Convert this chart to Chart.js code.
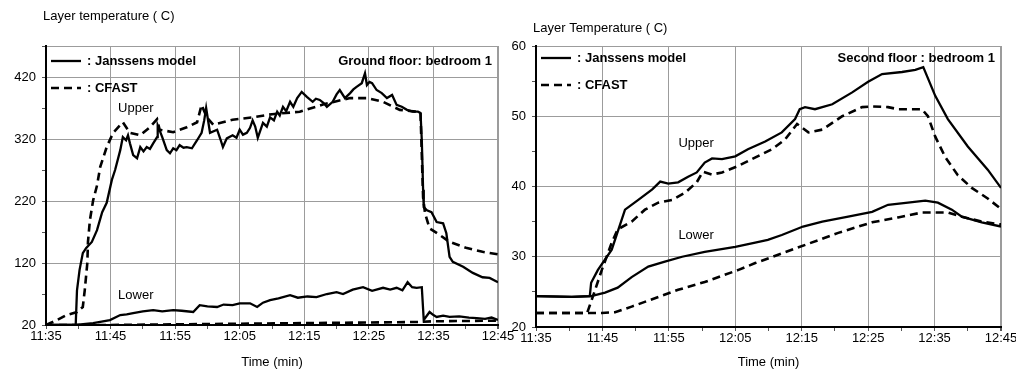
<!DOCTYPE html>
<html>
<head>
<meta charset="utf-8">
<script src="https://cdn.jsdelivr.net/npm/chart.js@4.4.0/dist/chart.umd.min.js"></script>
<style>
  body { margin: 0; background: #fff; width: 1016px; height: 370px; overflow: hidden; position: relative; }
  .panel { position: absolute; top: 0; }
  #groundPanel { left: 0; }
  #secondPanel { left: 505px; }
</style>
</head>
<body>
<div class="panel" id="groundPanel"><canvas id="groundChart" width="530" height="370"></canvas></div>
<div class="panel" id="secondPanel"><canvas id="secondChart" width="511" height="370"></canvas></div>
<script>
// ===== Data: minutes after 11:35, layer temperature in C =====
const timeLabels = ["11:35", "11:45", "11:55", "12:05", "12:15", "12:25", "12:35", "12:45"];
const groundTicks = [20, 120, 220, 320, 420];
const secondTicks = [20, 30, 40, 50, 60];

// Ground floor: bedroom 1
const groundJanssensUpper = [
  [0, 20], [4.6, 20], [4.8, 76], [5.2, 109], [5.7, 136], [6.2, 144], [7.1, 154], [7.9, 173],
  [8.7, 202], [9.4, 217], [10.2, 254], [10.7, 270], [11.5, 302], [11.9, 323], [12.4, 318],
  [12.7, 326], [13.0, 313], [13.5, 294], [14.1, 289], [14.6, 307], [15.1, 300], [15.6, 307],
  [16.1, 304], [16.6, 313], [17.2, 323], [17.3, 342], [18.0, 323], [18.7, 302], [19.2, 297],
  [19.7, 305], [20.2, 302], [20.7, 310], [21.3, 306], [21.8, 307], [22.6, 305], [23.4, 318],
  [24.1, 330], [24.5, 350], [24.8, 370], [25.4, 330], [26.5, 335], [27.0, 320], [27.4, 307],
  [28.0, 321], [28.9, 326], [29.5, 322], [30.0, 335], [30.5, 327], [31.1, 330], [31.6, 338],
  [32.0, 350], [32.4, 340], [32.8, 322], [33.6, 346], [34.2, 340], [34.7, 355], [35.3, 350],
  [35.8, 364], [36.2, 358], [36.7, 372], [37.2, 365], [37.8, 380], [38.3, 372], [38.9, 386],
  [39.6, 396], [40.4, 388], [41.3, 380], [41.8, 385], [42.4, 383], [43.0, 378], [43.5, 372],
  [44.4, 380], [45.0, 392], [45.5, 399], [46.3, 386], [47.1, 394], [47.6, 400], [48.1, 404],
  [48.9, 410], [49.4, 426], [49.7, 407], [50.1, 412], [50.5, 410], [51.2, 399], [52.0, 394],
  [52.8, 386], [53.6, 391], [54.3, 375], [55.1, 372], [55.9, 367], [56.8, 364], [57.6, 364],
  [58.0, 362], [58.2, 318], [58.4, 238], [58.5, 210], [59.0, 205], [59.7, 202], [60.5, 186],
  [61.5, 184], [62.0, 168], [62.5, 130], [63.0, 122], [64.6, 114], [66.1, 104], [67.6, 97],
  [68.7, 96], [70, 89]
];
const groundCfastUpper = [
  [0, 20], [1.7, 28], [3.2, 36], [4.8, 41], [5.7, 49], [6.0, 76], [6.4, 120], [6.5, 154],
  [6.8, 189], [7.3, 221], [7.9, 245], [8.4, 275], [9.4, 307], [10.4, 330], [11.9, 347],
  [13.0, 330], [14.6, 326], [16.1, 339], [17.2, 352], [17.6, 335], [19.7, 331], [21.8, 339],
  [23.4, 347], [24.1, 375], [24.9, 355], [25.9, 343], [28.9, 351], [32.0, 355], [35.0, 360],
  [39.3, 364], [43.0, 376], [47.1, 386], [49.7, 386], [52.2, 380], [54.8, 367], [57.4, 364],
  [58.0, 362], [58.4, 226], [58.7, 200], [59.4, 176], [61.0, 165], [62.5, 154], [65.2, 144],
  [67.6, 138], [70, 134]
];
const groundJanssensLower = [
  [0, 20], [4.6, 20], [7.3, 23], [9.9, 28], [11.5, 36], [12.5, 37], [13.5, 39], [15.0, 42],
  [16.6, 44], [18.0, 42], [19.7, 44], [21.0, 43], [22.8, 41], [23.8, 52], [25.0, 50],
  [26.5, 49], [27.5, 53], [28.9, 52], [30.0, 55], [31.6, 55], [32.7, 49], [33.6, 56],
  [34.7, 60], [36.0, 63], [37.8, 68], [39.0, 64], [40.5, 66], [41.9, 65], [43.5, 70],
  [45.0, 73], [46.0, 70], [47.5, 77], [49.1, 81], [50.5, 75], [52.2, 80], [53.3, 77],
  [54.3, 80], [55.2, 76], [56.0, 89], [56.7, 81], [57.4, 80], [58.2, 81], [58.5, 28],
  [59.4, 41], [60.0, 36], [60.5, 33], [61.5, 35], [62.5, 33], [64.0, 34], [65.5, 32],
  [66.7, 31], [68.0, 30], [69.0, 32], [70, 28]
];
const groundCfastLower = [
  [0, 20], [10, 20], [20, 21], [30, 22], [40, 23], [50, 24], [58, 25], [60, 26], [70, 27]
];

// Second floor: bedroom 1
const secondJanssensUpper = [
  [0, 24.4], [5.4, 24.3], [8.1, 24.4], [8.3, 26.3], [9.3, 28.1], [11.4, 31.0], [13.4, 36.7],
  [15.4, 38.1], [17.5, 39.6], [18.7, 40.7], [19.9, 40.4], [21.4, 40.6], [22.9, 41.4],
  [24.2, 42.0], [25.4, 43.4], [26.5, 44.0], [28.0, 43.9], [30.0, 44.3], [31.9, 45.3],
  [34.5, 46.4], [37.0, 47.7], [39.0, 49.6], [39.7, 51.0], [40.5, 51.3], [42.0, 51.0],
  [44.6, 51.7], [47.6, 53.4], [50.0, 54.9], [52.1, 56.0], [55.1, 56.3], [57.1, 56.6],
  [58.3, 57.0], [60.1, 52.9], [62.0, 49.6], [65.0, 45.7], [68.0, 42.4], [70, 39.8]
];
const secondCfastUpper = [
  [0, 22.0], [7.7, 22.0], [8.4, 23.9], [9.9, 28.1], [11.4, 32.0], [12.3, 33.9], [14.4, 35.0],
  [16.4, 36.7], [18.4, 37.7], [20.5, 38.1], [22.4, 39.1], [24.2, 40.6], [25.1, 42.1],
  [26.5, 41.7], [28.0, 42.0], [30.4, 42.9], [32.5, 43.9], [35.5, 45.3], [37.5, 46.7],
  [39.3, 48.9], [41.0, 47.7], [43.1, 48.1], [46.1, 50.0], [49.1, 51.3], [50.6, 51.4],
  [53.0, 51.3], [54.5, 51.0], [58.1, 51.0], [59.0, 50.0], [60.1, 47.1], [61.6, 44.2],
  [63.5, 41.6], [65.6, 39.8], [68.0, 38.3], [70, 36.8]
];
const secondJanssensLower = [
  [0, 24.4], [5.4, 24.3], [8.3, 24.4], [10.4, 24.9], [12.3, 25.6], [14.4, 27.1], [16.9, 28.6],
  [19.4, 29.3], [22.0, 30.0], [25.4, 30.7], [30.0, 31.4], [33.0, 32.0], [34.9, 32.4],
  [37.0, 33.1], [40.2, 34.3], [43.1, 35.0], [47.0, 35.7], [50.6, 36.4], [53.0, 37.4],
  [56.0, 37.7], [58.6, 38.0], [60.5, 37.7], [62.6, 36.7], [64.1, 35.7], [67.1, 34.9], [70, 34.3]
];
const secondCfastLower = [
  [0, 22.0], [9.9, 22.0], [11.9, 22.1], [14.4, 22.9], [17.9, 24.1], [21.4, 25.3], [25.4, 26.4],
  [30.4, 28.1], [33.0, 29.1], [39.4, 31.3], [45.5, 33.4], [50.6, 34.9], [54.5, 35.6],
  [58.1, 36.3], [62.0, 36.3], [64.1, 35.7], [67.1, 35.0], [70, 34.6]
];

// ===== Shared styling =====
const FONT = "'Liberation Sans', Arial, sans-serif";
const GRID = "#9c9c9c";
const minuteTicks = [0, 5, 10, 15, 20, 25, 30, 35, 40, 45, 50, 55, 60, 65, 70];

function toXY(points) {
  return points.map(([x, y]) => ({ x, y }));
}

function lineSet(points, dashed) {
  return {
    data: toXY(points),
    borderColor: "#000",
    borderWidth: dashed ? 2.6 : 2.3,
    borderDash: dashed ? [8, 5] : [],
    pointRadius: 0,
    tension: 0,
    fill: false
  };
}

// titles, legend and labels drawn on top of the plot
function textPlugin(cfg) {
  return {
    id: "panelText",
    afterDraw(chart) {
      const { ctx, chartArea: a, scales } = chart;
      ctx.save();
      ctx.fillStyle = "#000";
      ctx.textBaseline = "middle";

      ctx.font = "13px " + FONT;
      ctx.textAlign = "left";
      ctx.fillText(cfg.title, cfg.titleX, cfg.titleY);
      ctx.textAlign = "center";
      ctx.fillText("Time (min)", (a.left + a.right) / 2, 362);

      // legend
      const lx = a.left + 5;
      [[cfg.legendY, [], ": Janssens model"], [cfg.legendY + 27, [8, 5], ": CFAST"]].forEach(([y, dash, label]) => {
        ctx.beginPath();
        ctx.setLineDash(dash);
        ctx.lineWidth = dash.length ? 2.6 : 2.3;
        ctx.strokeStyle = "#000";
        ctx.moveTo(lx, y);
        ctx.lineTo(lx + 30, y);
        ctx.stroke();
        ctx.setLineDash([]);
        ctx.font = "bold 13px " + FONT;
        ctx.textAlign = "left";
        ctx.fillText(label, lx + 36, y);
      });

      ctx.font = "bold 13px " + FONT;
      ctx.textAlign = "right";
      ctx.fillText(cfg.room, a.right - 6, cfg.legendY);

      ctx.font = "13px " + FONT;
      ctx.textAlign = "center";
      cfg.notes.forEach(([text, t, v]) => {
        ctx.fillText(text, scales.x.getPixelForValue(t), scales.y.getPixelForValue(v));
      });
      ctx.restore();
    }
  };
}

function buildChart(id, cfg) {
  return new Chart(document.getElementById(id), {
    type: "line",
    data: {
      datasets: [
        lineSet(cfg.series[0], false),
        lineSet(cfg.series[1], true),
        lineSet(cfg.series[2], false),
        lineSet(cfg.series[3], true)
      ]
    },
    options: {
      responsive: false,
      animation: false,
      layout: { padding: cfg.padding },
      plugins: { legend: { display: false }, tooltip: { enabled: false } },
      scales: {
        x: {
          type: "linear",
          min: 0,
          max: 70,
          afterBuildTicks: (s) => { s.ticks = minuteTicks.map((v) => ({ value: v })); },
          afterFit: (s) => { s.height = cfg.xHeight; s.paddingLeft = 0; s.paddingRight = 0; },
          border: { color: "#000", width: 2 },
          grid: {
            color: (c) => (c.tick && c.tick.value % 10 === 0 && c.tick.value > 0 ? GRID : "rgba(0,0,0,0)"),
            lineWidth: (c) => (c.tick && c.tick.value === 70 ? 2 : 1),
            tickColor: "#555",
            tickLength: 4
          },
          ticks: {
            autoSkip: false,
            maxRotation: 0,
            padding: 0,
            color: "#000",
            font: { family: FONT, size: 13 },
            callback: (v) => (v % 10 === 0 ? timeLabels[v / 10] : "")
          }
        },
        y: {
          min: cfg.yMin,
          max: cfg.yMax,
          afterBuildTicks: (s) => { s.ticks = cfg.yAllTicks.map((v) => ({ value: v })); },
          afterFit: (s) => { s.width = cfg.yWidth; s.paddingTop = 0; s.paddingBottom = 0; },
          border: { color: "#000", width: 2 },
          grid: {
            color: (c) => (c.tick && c.tick.value > cfg.yMin && (cfg.yMajor.includes(c.tick.value) || c.tick.value === cfg.yMax) ? GRID : "rgba(0,0,0,0)"),
            tickColor: "#555",
            tickLength: 4
          },
          ticks: {
            autoSkip: false,
            padding: 6,
            color: "#000",
            font: { family: FONT, size: 13 },
            callback: (v) => (cfg.yMajor.includes(v) ? String(v) : "")
          }
        }
      }
    },
    plugins: [textPlugin(cfg)]
  });
}

// ===== Ground floor =====
buildChart("groundChart", {
  series: [groundJanssensUpper, groundCfastUpper, groundJanssensLower, groundCfastLower],
  padding: { left: 0, top: 46, right: 32, bottom: 0 },
  yWidth: 46,
  xHeight: 45,
  yMin: 20,
  yMax: 470,
  yMajor: groundTicks,
  yAllTicks: [20, 70, 120, 170, 220, 270, 320, 370, 420, 470],
  title: "Layer temperature ( C)",
  titleX: 43,
  titleY: 16,
  legendY: 61,
  room: "Ground floor: bedroom 1",
  notes: [["Upper", 13.9, 370], ["Lower", 13.9, 68]]
});

// ===== Second floor =====
buildChart("secondChart", {
  series: [secondJanssensUpper, secondCfastUpper, secondJanssensLower, secondCfastLower],
  padding: { left: 0, top: 46, right: 15, bottom: 0 },
  yWidth: 31,
  xHeight: 43,
  yMin: 20,
  yMax: 60,
  yMajor: secondTicks,
  yAllTicks: [20, 25, 30, 35, 40, 45, 50, 55, 60],
  title: "Layer Temperature ( C)",
  titleX: 28,
  titleY: 28,
  legendY: 58,
  room: "Second floor : bedroom 1",
  notes: [["Upper", 24.1, 46.1], ["Lower", 24.1, 33.1]]
});
</script>
</body>
</html>
